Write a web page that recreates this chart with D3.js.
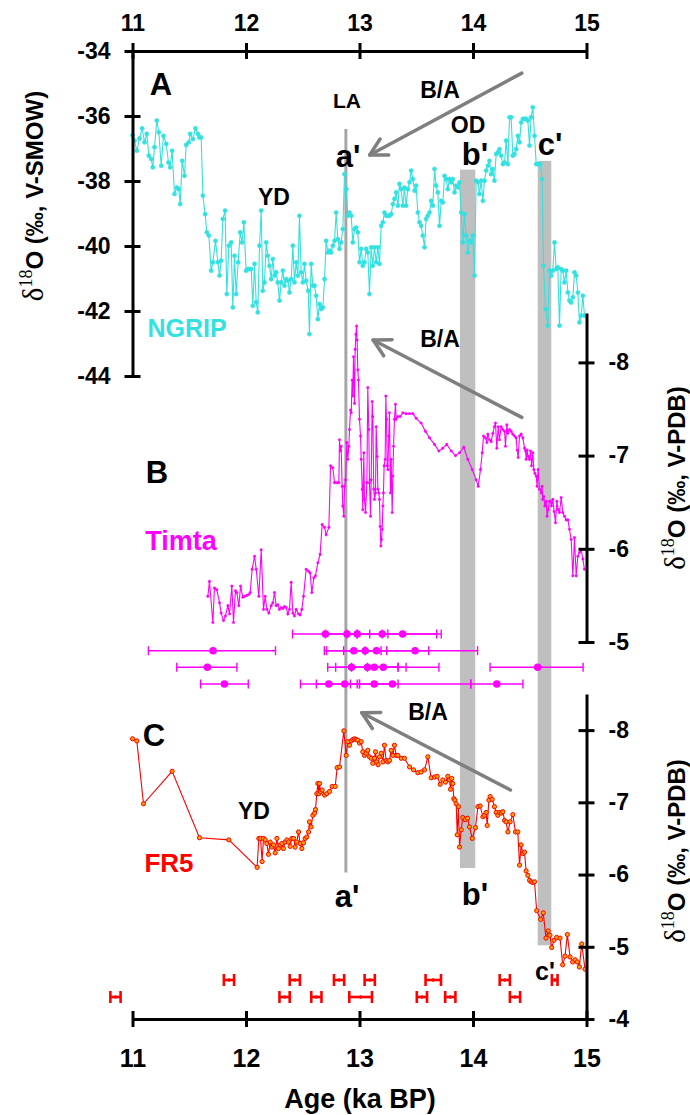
<!DOCTYPE html>
<html><head><meta charset="utf-8">
<script src="https://cdn.jsdelivr.net/npm/d3@7"></script>
<style>body{margin:0;background:#fff;} svg{display:block;}</style>
</head><body>
<svg id="chart" width="690" height="1115"></svg>
<script>
// ---------- data ----------
const ageTicks = [11, 12, 13, 14, 15];
const ngripTicks = [-34, -36, -38, -40, -42, -44];
const timtaTicks = [-8, -7, -6, -5];
const fr5Ticks = [-8, -7, -6, -5, -4];

// NGRIP d18O (permil V-SMOW): [age ka BP, value]
const ngrip = [
[11.000,-36.59],[11.018,-36.76],[11.038,-37.07],[11.062,-36.69],[11.085,-36.38],[11.106,-36.81],[11.126,-36.55],[11.144,-37.22],[11.164,-37.32],[11.179,-37.58],[11.194,-36.96],[11.214,-36.14],[11.232,-36.50],[11.253,-37.53],[11.273,-36.61],[11.297,-36.86],[11.317,-37.43],[11.332,-37.58],[11.349,-37.07],[11.370,-38.40],[11.391,-38.20],[11.408,-38.25],[11.420,-38.71],[11.438,-37.38],[11.458,-37.84],[11.473,-36.89],[11.496,-36.81],[11.508,-36.55],[11.532,-36.71],[11.555,-36.38],[11.576,-36.55],[11.590,-36.66],[11.605,-36.66],[11.620,-38.45],[11.640,-39.02],[11.655,-39.58],[11.673,-39.68],[11.693,-40.76],[11.708,-40.50],[11.731,-39.84],[11.752,-40.50],[11.767,-40.91],[11.781,-40.45],[11.796,-39.17],[11.816,-38.91],[11.831,-41.48],[11.849,-39.99],[11.869,-39.89],[11.884,-41.89],[11.899,-40.30],[11.913,-41.48],[11.931,-40.50],[11.949,-39.58],[11.966,-39.89],[11.981,-39.27],[12.001,-40.76],[12.016,-40.71],[12.031,-40.71],[12.046,-40.71],[12.060,-41.84],[12.075,-40.55],[12.090,-41.73],[12.104,-42.04],[12.119,-39.99],[12.134,-38.91],[12.148,-41.38],[12.163,-41.12],[12.178,-39.89],[12.192,-40.30],[12.207,-40.61],[12.222,-41.02],[12.236,-40.40],[12.251,-40.91],[12.266,-40.81],[12.280,-41.12],[12.295,-41.68],[12.310,-41.12],[12.325,-40.76],[12.339,-41.22],[12.354,-41.02],[12.369,-41.07],[12.383,-41.43],[12.398,-41.02],[12.413,-39.99],[12.427,-41.12],[12.442,-40.50],[12.457,-40.91],[12.471,-39.07],[12.486,-40.81],[12.501,-41.12],[12.515,-40.55],[12.530,-41.07],[12.548,-41.38],[12.559,-42.71],[12.574,-40.55],[12.589,-41.22],[12.604,-41.22],[12.618,-41.53],[12.633,-42.25],[12.648,-41.79],[12.662,-41.94],[12.677,-41.89],[12.692,-41.02],[12.706,-39.84],[12.721,-40.20],[12.736,-40.14],[12.750,-40.20],[12.765,-39.99],[12.780,-39.84],[12.794,-38.97],[12.809,-39.79],[12.824,-40.09],[12.838,-39.89],[12.853,-39.48],[12.868,-37.79],[12.883,-38.25],[12.897,-39.07],[12.912,-38.97],[12.927,-39.07],[12.941,-39.89],[12.956,-39.48],[12.971,-39.43],[12.985,-39.58],[13.000,-40.50],[13.015,-40.09],[13.029,-40.61],[13.044,-40.50],[13.059,-40.09],[13.073,-40.20],[13.088,-41.48],[13.103,-40.04],[13.117,-40.61],[13.132,-40.04],[13.147,-40.50],[13.162,-40.04],[13.176,-40.55],[13.191,-39.38],[13.206,-39.27],[13.220,-38.97],[13.235,-39.07],[13.250,-39.07],[13.264,-39.07],[13.279,-39.02],[13.294,-38.71],[13.308,-38.55],[13.323,-38.35],[13.338,-38.76],[13.352,-38.09],[13.367,-38.25],[13.382,-38.76],[13.396,-38.20],[13.411,-38.76],[13.426,-38.25],[13.441,-38.04],[13.455,-37.68],[13.470,-37.94],[13.485,-38.30],[13.499,-38.14],[13.514,-38.97],[13.529,-39.27],[13.543,-39.38],[13.558,-39.68],[13.573,-40.04],[13.587,-39.17],[13.602,-39.07],[13.617,-38.97],[13.631,-38.61],[13.646,-38.76],[13.661,-37.63],[13.675,-38.14],[13.690,-38.35],[13.705,-39.38],[13.720,-38.61],[13.734,-38.66],[13.749,-37.84],[13.764,-37.94],[13.778,-38.25],[13.793,-37.94],[13.808,-38.04],[13.822,-37.94],[13.837,-38.35],[13.852,-38.14],[13.866,-38.20],[13.881,-38.04],[13.896,-38.97],[13.910,-39.89],[13.925,-39.02],[13.940,-39.68],[13.954,-40.20],[13.969,-39.84],[13.984,-39.89],[13.999,-39.68],[14.013,-40.91],[14.028,-37.99],[14.043,-38.04],[14.057,-38.40],[14.072,-37.99],[14.087,-38.61],[14.101,-37.99],[14.116,-37.68],[14.131,-37.53],[14.145,-37.38],[14.160,-37.79],[14.175,-37.63],[14.189,-37.99],[14.204,-37.17],[14.219,-37.12],[14.233,-37.02],[14.248,-37.22],[14.263,-37.48],[14.278,-37.43],[14.292,-36.76],[14.307,-37.48],[14.322,-36.04],[14.336,-36.04],[14.351,-37.22],[14.366,-37.17],[14.380,-37.02],[14.395,-36.61],[14.410,-36.81],[14.424,-36.20],[14.439,-36.09],[14.454,-36.09],[14.468,-36.09],[14.483,-36.14],[14.498,-36.91],[14.512,-36.04],[14.527,-35.73],[14.542,-36.61],[14.557,-37.48],[14.571,-37.48],[14.592,-37.48],[14.609,-37.94],[14.621,-40.61],[14.639,-41.94],[14.659,-42.45],[14.674,-40.76],[14.689,-40.91],[14.703,-40.76],[14.718,-39.89],[14.733,-40.71],[14.747,-40.66],[14.762,-42.45],[14.777,-40.71],[14.791,-40.76],[14.806,-41.12],[14.821,-40.76],[14.836,-41.43],[14.850,-41.68],[14.865,-41.74],[14.880,-41.58],[14.894,-40.81],[14.909,-40.91],[14.924,-41.43],[14.938,-42.35],[14.953,-42.14],[14.968,-41.53],[14.982,-42.14]
];

// Timta d18O (permil V-PDB): [age ka BP, value]
const timta = [
[11.664,-5.49],[11.678,-5.65],[11.708,-5.21],[11.722,-5.58],[11.743,-5.56],[11.767,-5.42],[11.781,-5.31],[11.802,-5.23],[11.819,-5.28],[11.840,-5.39],[11.855,-5.30],[11.875,-5.60],[11.890,-5.21],[11.907,-5.55],[11.919,-5.53],[11.937,-5.39],[11.952,-5.60],[11.972,-5.48],[11.987,-5.49],[12.007,-5.50],[12.025,-5.51],[12.037,-5.53],[12.054,-5.78],[12.075,-5.92],[12.090,-5.78],[12.113,-5.49],[12.134,-5.99],[12.154,-5.35],[12.169,-5.49],[12.184,-5.35],[12.201,-5.31],[12.222,-5.39],[12.236,-5.42],[12.251,-5.53],[12.266,-5.39],[12.280,-5.40],[12.295,-5.35],[12.310,-5.37],[12.325,-5.36],[12.339,-5.38],[12.354,-5.37],[12.369,-5.30],[12.383,-5.35],[12.398,-5.64],[12.413,-5.31],[12.427,-5.28],[12.442,-5.35],[12.463,-5.30],[12.477,-5.29],[12.492,-5.35],[12.507,-5.49],[12.530,-5.78],[12.551,-5.76],[12.565,-5.74],[12.580,-5.53],[12.598,-5.69],[12.612,-5.71],[12.633,-5.85],[12.653,-5.94],[12.671,-6.26],[12.692,-6.23],[12.706,-6.15],[12.730,-6.23],[12.745,-6.89],[12.765,-6.87],[12.780,-6.71],[12.800,-6.71],[12.818,-6.71],[12.824,-7.17],[12.830,-7.05],[12.838,-7.10],[12.847,-6.67],[12.853,-6.46],[12.862,-6.35],[12.868,-6.67],[12.877,-6.74],[12.888,-7.14],[12.897,-6.96],[12.906,-7.10],[12.912,-7.28],[12.921,-7.49],[12.927,-7.46],[12.935,-7.81],[12.941,-7.64],[12.947,-8.06],[12.956,-7.56],[12.962,-8.14],[12.968,-8.30],[12.974,-8.39],[12.979,-8.24],[12.985,-7.92],[12.991,-7.81],[13.000,-7.39],[13.009,-7.21],[13.015,-6.96],[13.024,-6.64],[13.029,-6.42],[13.038,-7.03],[13.044,-6.53],[13.053,-6.39],[13.065,-6.71],[13.073,-7.73],[13.082,-7.28],[13.088,-6.71],[13.097,-6.35],[13.103,-6.74],[13.112,-7.58],[13.117,-7.42],[13.126,-6.64],[13.132,-6.53],[13.141,-6.60],[13.147,-7.31],[13.156,-6.99],[13.162,-6.64],[13.170,-6.60],[13.176,-6.53],[13.182,-6.24],[13.188,-6.03],[13.194,-6.10],[13.200,-6.21],[13.206,-6.46],[13.211,-6.60],[13.217,-6.89],[13.226,-6.96],[13.232,-7.64],[13.238,-7.39],[13.244,-6.89],[13.250,-6.85],[13.258,-7.21],[13.264,-7.46],[13.273,-6.60],[13.279,-6.96],[13.288,-6.39],[13.294,-6.78],[13.300,-7.10],[13.308,-7.39],[13.317,-7.55],[13.323,-7.39],[13.338,-7.42],[13.358,-7.42],[13.382,-7.46],[13.411,-7.45],[13.441,-7.45],[13.470,-7.45],[13.499,-7.40],[13.543,-7.35],[13.581,-7.26],[13.617,-7.19],[13.661,-7.12],[13.699,-7.05],[13.734,-7.08],[13.769,-7.12],[13.808,-7.05],[13.846,-7.00],[13.881,-7.03],[13.919,-7.09],[13.954,-6.96],[13.993,-6.85],[14.028,-6.74],[14.046,-6.67],[14.066,-6.85],[14.081,-7.03],[14.093,-7.21],[14.110,-7.19],[14.122,-7.14],[14.131,-7.23],[14.145,-7.17],[14.160,-7.15],[14.175,-7.24],[14.189,-7.31],[14.198,-7.35],[14.210,-7.08],[14.222,-7.31],[14.233,-7.17],[14.248,-7.31],[14.263,-7.28],[14.278,-7.26],[14.286,-7.10],[14.298,-7.33],[14.307,-7.24],[14.322,-7.28],[14.336,-7.26],[14.351,-7.23],[14.366,-7.21],[14.380,-7.19],[14.389,-7.06],[14.398,-6.98],[14.410,-7.21],[14.424,-7.23],[14.439,-7.19],[14.454,-7.08],[14.463,-7.05],[14.468,-6.96],[14.477,-7.06],[14.486,-6.99],[14.498,-6.96],[14.507,-7.05],[14.516,-6.89],[14.527,-7.03],[14.536,-6.85],[14.545,-6.81],[14.557,-6.78],[14.565,-6.67],[14.574,-6.85],[14.586,-6.64],[14.601,-6.60],[14.609,-6.67],[14.615,-6.53],[14.624,-6.56],[14.633,-6.46],[14.645,-6.51],[14.653,-6.35],[14.662,-6.42],[14.674,-6.51],[14.683,-6.51],[14.692,-6.46],[14.703,-6.53],[14.715,-6.40],[14.727,-6.28],[14.739,-6.51],[14.750,-6.42],[14.762,-6.39],[14.777,-6.55],[14.791,-6.39],[14.806,-6.35],[14.821,-6.31],[14.836,-6.31],[14.850,-6.21],[14.865,-6.10],[14.880,-5.71],[14.894,-6.12],[14.909,-5.71],[14.924,-5.92],[14.938,-5.96],[14.953,-5.99],[14.968,-5.89],[14.982,-5.78]
];

// FR5 d18O (permil V-PDB): [age ka BP, value]
const fr5 = [
[11.000,-7.88],[11.038,-7.85],[11.097,-6.98],[11.349,-7.43],[11.590,-6.51],[11.849,-6.48],[12.098,-6.10],[12.113,-6.50],[12.128,-6.50],[12.142,-6.18],[12.154,-6.50],[12.169,-6.48],[12.184,-6.43],[12.198,-6.28],[12.213,-6.45],[12.228,-6.38],[12.242,-6.41],[12.257,-6.30],[12.272,-6.50],[12.286,-6.36],[12.301,-6.41],[12.316,-6.43],[12.330,-6.36],[12.345,-6.45],[12.360,-6.48],[12.374,-6.45],[12.389,-6.39],[12.404,-6.50],[12.419,-6.50],[12.433,-6.38],[12.448,-6.45],[12.463,-6.59],[12.477,-6.43],[12.492,-6.36],[12.507,-6.44],[12.521,-6.50],[12.536,-6.52],[12.551,-6.59],[12.559,-6.73],[12.574,-6.66],[12.589,-6.82],[12.604,-6.85],[12.612,-6.90],[12.624,-7.12],[12.633,-7.26],[12.642,-7.12],[12.648,-7.26],[12.656,-7.15],[12.671,-7.17],[12.692,-7.10],[12.712,-7.12],[12.736,-7.15],[12.759,-7.22],[12.786,-7.22],[12.803,-7.48],[12.824,-7.49],[12.862,-7.99],[12.883,-7.65],[12.897,-7.84],[12.912,-7.79],[12.927,-7.85],[12.941,-7.87],[12.956,-7.88],[12.971,-7.87],[12.985,-7.86],[13.000,-7.82],[13.015,-7.84],[13.029,-7.70],[13.044,-7.65],[13.059,-7.68],[13.073,-7.72],[13.088,-7.63],[13.103,-7.61],[13.117,-7.54],[13.132,-7.61],[13.141,-7.70],[13.152,-7.56],[13.164,-7.52],[13.176,-7.63],[13.191,-7.68],[13.206,-7.56],[13.220,-7.79],[13.235,-7.58],[13.250,-7.56],[13.264,-7.58],[13.279,-7.72],[13.294,-7.65],[13.308,-7.79],[13.323,-7.65],[13.338,-7.65],[13.367,-7.61],[13.396,-7.61],[13.441,-7.49],[13.476,-7.45],[13.514,-7.41],[13.543,-7.42],[13.573,-7.45],[13.602,-7.63],[13.631,-7.34],[13.661,-7.35],[13.684,-7.36],[13.711,-7.25],[13.734,-7.31],[13.758,-7.28],[13.778,-7.36],[13.793,-7.31],[13.802,-7.18],[13.813,-7.33],[13.822,-7.26],[13.831,-7.05],[13.840,-7.03],[13.852,-6.98],[13.861,-6.55],[13.872,-6.94],[13.881,-6.38],[13.896,-6.62],[13.910,-6.79],[13.931,-6.76],[13.952,-6.78],[13.969,-6.66],[13.993,-6.50],[14.022,-6.65],[14.043,-6.94],[14.063,-6.95],[14.087,-6.80],[14.101,-6.82],[14.116,-6.86],[14.125,-6.68],[14.140,-7.03],[14.151,-7.08],[14.169,-7.04],[14.189,-6.94],[14.204,-6.86],[14.219,-6.82],[14.233,-6.86],[14.248,-6.85],[14.263,-6.87],[14.278,-6.75],[14.292,-6.73],[14.307,-6.59],[14.327,-6.73],[14.351,-6.83],[14.374,-6.59],[14.395,-6.59],[14.410,-6.13],[14.424,-6.41],[14.439,-6.29],[14.454,-6.31],[14.468,-6.05],[14.483,-5.99],[14.498,-5.92],[14.512,-5.90],[14.527,-5.89],[14.542,-5.90],[14.561,-5.50],[14.596,-5.38],[14.619,-5.47],[14.643,-5.12],[14.663,-5.22],[14.678,-5.16],[14.693,-4.99],[14.714,-5.09],[14.737,-5.13],[14.767,-5.12],[14.790,-4.75],[14.811,-4.87],[14.831,-5.17],[14.855,-4.86],[14.878,-4.79],[14.899,-4.82],[14.919,-4.79],[14.937,-4.72],[14.958,-5.04],[14.987,-4.69]
];

// Timta U-Th dates: [age, lower, upper] (ka BP), four rows as in the figure
const timtaDatesRow1 = [[12.70,12.41,12.98],[12.89,12.70,13.09],[12.98,12.89,13.25],[13.20,12.98,13.68],[13.38,13.20,13.72]];
const timtaDatesRow2 = [[11.71,11.14,12.26],[12.95,12.69,13.19],[13.05,12.71,13.24],[13.15,12.86,13.61],[13.49,13.05,14.04]];
const timtaDatesRow3 = [[11.66,11.39,11.92],[12.93,12.72,13.34],[13.07,12.79,13.41],[13.13,12.93,13.70],[13.21,13.07,13.34],[14.57,14.15,14.97]];
const timtaDatesRow4 = [[11.81,11.60,12.02],[12.73,12.48,12.98],[12.87,12.62,13.00],[13.13,12.92,13.34],[13.29,13.00,13.98],[14.21,13.98,14.44]];
// FR5 U-Th dates: [age, lower, upper]
const fr5DatesRow1 = [[11.85,11.805,11.895],[12.43,12.385,12.475],[12.82,12.775,12.865],[13.09,13.045,13.135],[13.65,13.582,13.718],[14.28,14.235,14.325],[14.72,14.695,14.745]];
const fr5DatesRow2 = [[10.85,10.805,10.895],[12.34,12.295,12.385],[12.62,12.575,12.665],[13.01,12.91,13.11],[13.55,13.505,13.595],[13.80,13.755,13.845],[14.37,14.325,14.415]];

// events
const aAge = 12.88;            // a' (LA onset line)
const bBand = [13.885, 14.02];  // b' (OD)
const cBand = [14.57, 14.69];   // c' (B/A onset)

// ---------- layout ----------
const svg = d3.select('#chart');
const x = d3.scaleLinear().domain([11, 15]).range([132.5, 586.5]);
const yA = d3.scaleLinear().domain([-34, -44]).range([51, 376]);
const yB = d3.scaleLinear().domain([-8.53, -5]).range([313, 642]);
const yC = d3.scaleLinear().domain([-8.5, -4]).range([694, 1019]);

const SANS = "'Liberation Sans', Arial, sans-serif";
const SERIF = "'Liberation Serif', 'Times New Roman', serif";
const cyan = '#33E1E1', magenta = '#FF00FF', red = '#FF0000', orange = '#FFA200';
const gray = '#BFBFBF', lineGray = '#A6A6A6', arrowGray = '#7F7F7F';
const fmt = d => String(d);   // plain hyphen-minus like the original

// ---------- event marks (behind data) ----------
svg.append('rect').attr('x', x(bBand[0])).attr('width', x(bBand[1]) - x(bBand[0]))
  .attr('y', yA(-37.65)).attr('height', yC(-6.09) - yA(-37.65)).attr('fill', gray);
svg.append('rect').attr('x', x(cBand[0])).attr('width', x(cBand[1]) - x(cBand[0]))
  .attr('y', yA(-37.38)).attr('height', yC(-5.02) - yA(-37.38)).attr('fill', gray);
svg.append('line').attr('x1', x(aAge)).attr('x2', x(aAge))
  .attr('y1', yA(-36.4)).attr('y2', yC(-6.03)).attr('stroke', lineGray).attr('stroke-width', 3);

// ---------- series ----------
function series(data, y, color, r, fill, sw) {
  const g = svg.append('g');
  g.append('path').datum(data)
    .attr('d', d3.line().x(d => x(d[0])).y(d => y(d[1])))
    .attr('fill', 'none').attr('stroke', color).attr('stroke-width', 1.1);
  g.selectAll('circle').data(data).join('circle')
    .attr('cx', d => x(d[0])).attr('cy', d => y(d[1])).attr('r', r)
    .attr('fill', fill).attr('stroke', color).attr('stroke-width', sw);
}
series(ngrip, yA, cyan, 2.1, cyan, 0.5);
series(timta, yB, magenta, 1.3, magenta, 0.3);
series(fr5, yC, red, 2.1, orange, 1);

// ---------- error bars ----------
function errRow(data, yPix, color, sw, capH, r) {
  const g = svg.append('g').attr('stroke', color).attr('stroke-width', sw);
  data.forEach(d => {
    g.append('line').attr('x1', x(d[1])).attr('x2', x(d[2])).attr('y1', yPix).attr('y2', yPix);
    [d[1], d[2]].forEach(v => g.append('line').attr('x1', x(v)).attr('x2', x(v))
      .attr('y1', yPix - capH).attr('y2', yPix + capH));
  });
  svg.append('g').selectAll('circle').data(data).join('circle')
    .attr('cx', d => x(d[0])).attr('cy', yPix).attr('r', r).attr('fill', color);
}
errRow(timtaDatesRow1, 634, magenta, 1.4, 4.5, 3.8);
errRow(timtaDatesRow2, 650.7, magenta, 1.4, 4.5, 3.8);
errRow(timtaDatesRow3, 667.3, magenta, 1.4, 4.5, 3.8);
errRow(timtaDatesRow4, 684, magenta, 1.4, 4.5, 3.8);
errRow(fr5DatesRow1, 980, red, 2.6, 6, 1.8);
errRow(fr5DatesRow2, 997, red, 2.6, 6, 1.8);

// ---------- axes ----------
function styleAxis(g, size) {
  g.attr('font-family', SANS).attr('font-size', size).attr('font-weight', 'bold');
  g.select('.domain').attr('stroke', '#000').attr('stroke-width', 3);
  g.selectAll('.tick line').attr('stroke', '#000').attr('stroke-width', 3);
  g.selectAll('.tick text').attr('fill', '#000');
}
const gTop = svg.append('g').attr('transform', `translate(0,${yA(-34)})`)
  .call(d3.axisTop(x).tickValues(ageTicks).tickSize(8).tickSizeOuter(0).tickPadding(12).tickFormat(fmt));
styleAxis(gTop, 23); gTop.selectAll('.tick line').attr('y2', -8).attr('y1', 8);

const gBot = svg.append('g').attr('transform', `translate(0,${yC(-4)})`)
  .call(d3.axisBottom(x).tickValues(ageTicks).tickSize(8).tickSizeOuter(0).tickPadding(22).tickFormat(fmt));
styleAxis(gBot, 25); gBot.selectAll('.tick line').attr('y2', 8).attr('y1', -8);

const gA = svg.append('g').attr('transform', `translate(${x(11)},0)`)
  .call(d3.axisLeft(yA).tickValues(ngripTicks).tickSize(8).tickSizeOuter(0).tickPadding(14).tickFormat(fmt));
styleAxis(gA, 23); gA.selectAll('.tick line').attr('x1', 8);

const gB = svg.append('g').attr('transform', `translate(${x(15)},0)`)
  .call(d3.axisRight(yB).tickValues(timtaTicks).tickSize(8).tickSizeOuter(0).tickPadding(14).tickFormat(fmt));
styleAxis(gB, 23); gB.selectAll('.tick line').attr('x1', -8);

const gC = svg.append('g').attr('transform', `translate(${x(15)},0)`)
  .call(d3.axisRight(yC).tickValues(fr5Ticks).tickSize(8).tickSizeOuter(0).tickPadding(14).tickFormat(fmt));
styleAxis(gC, 23); gC.selectAll('.tick line').attr('x1', -8);

// axis titles
function yTitle(tx, ty, unit) {
  const t = svg.append('text').attr('transform', `translate(${tx},${ty}) rotate(-90)`)
    .attr('text-anchor', 'middle').attr('fill', '#000');
  t.append('tspan').attr('font-family', SERIF).attr('font-size', 29).text('δ');
  t.append('tspan').attr('font-family', SERIF).attr('font-size', 18).attr('dy', -11).text('18');
  t.append('tspan').attr('font-family', SANS).attr('font-weight', 'bold').attr('font-size', 24).attr('dy', 11).text('O (‰, ' + unit + ')');
}
yTitle(43, 196, 'V-SMOW');
yTitle(685, 478, 'V-PDB');
yTitle(685, 851, 'V-PDB');

svg.append('text').attr('x', 360).attr('y', 1108).attr('text-anchor', 'middle')
  .attr('font-family', SANS).attr('font-weight', 'bold').attr('font-size', 27).text('Age (ka BP)');

// ---------- arrows ----------
function arrow(a0, v0, a1, v1, y) {
  const x0 = x(a0), y0 = y(v0), x1 = x(a1), y1 = y(v1);
  const ang = Math.atan2(y1 - y0, x1 - x0), L = 19, sp = 0.5;
  const g = svg.append('g').attr('stroke', arrowGray).attr('stroke-width', 3.5).attr('fill', 'none')
    .attr('stroke-linecap', 'round');
  g.append('line').attr('x1', x0).attr('y1', y0).attr('x2', x1).attr('y2', y1);
  g.append('path').attr('d', `M${x1 - L * Math.cos(ang - sp)},${y1 - L * Math.sin(ang - sp)} L${x1},${y1} L${x1 - L * Math.cos(ang + sp)},${y1 - L * Math.sin(ang + sp)}`)
    .attr('stroke-linejoin', 'round');
}
arrow(14.43, -34.68, 13.09, -37.2, yA);
arrow(14.43, -7.41, 13.12, -8.24, yB);
arrow(14.33, -7.17, 13.02, -8.24, yC);

// ---------- labels ----------
function label(txt, lx, ly, size, color, anchor) {
  svg.append('text').attr('x', lx).attr('y', ly).attr('text-anchor', anchor || 'middle')
    .attr('font-family', SANS).attr('font-weight', 'bold').attr('font-size', size)
    .attr('fill', color || '#000').text(txt);
}
label('A', 161, 95, 31);
label('B', 157, 483, 31);
label('C', 154, 746, 31);
label('LA', 347, 108, 21);
label('B/A', 440, 98, 23);
label('OD', 468, 133, 23);
label("a'", 348, 167, 31);
label("b'", 475, 165, 31);
label("c'", 550, 155, 31);
label('YD', 274, 205, 23);
label('NGRIP', 187, 337, 25, cyan);
label('B/A', 440, 347, 23);
label('Timta', 181, 550, 27, magenta);
label('B/A', 428, 720, 23);
label('YD', 254, 819, 23);
label('FR5', 169, 872, 26, red);
label("a'", 347, 907, 31);
label("b'", 475, 905, 31);
label("c'", 545, 980, 25);
</script>
</body></html>
